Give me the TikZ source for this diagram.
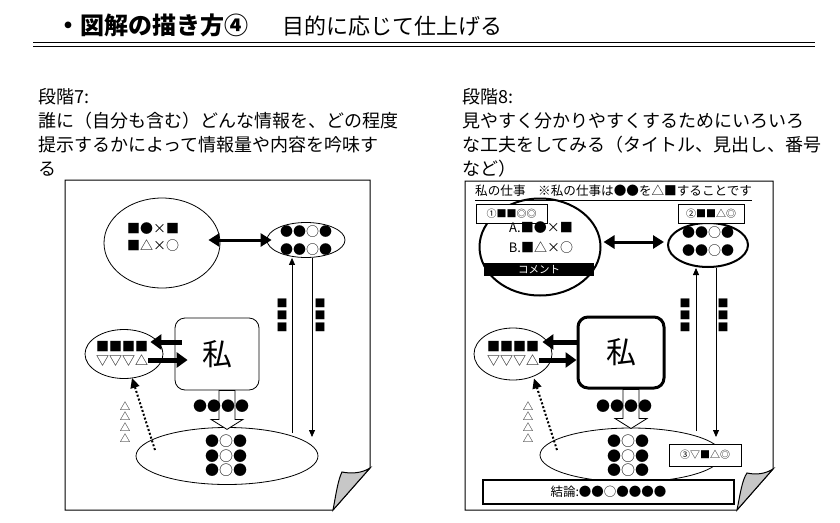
\documentclass[tikz,border=0pt]{standalone}
\usepackage{fontspec}
\setmainfont{Noto Sans CJK JP}
\usetikzlibrary{arrows.meta, positioning, shapes.geometric, calc}

\begin{document}
\begin{tikzpicture}[x=1pt, y=-1pt,
    every node/.style={inner sep=0pt},
    steptext/.style={align=left, font=\fontsize{18}{24}\selectfont},
    sym/.style={align=center, font=\fontsize{13}{#1}\selectfont},
    dots/.style={align=center, font=\fontsize{14}{#1}\selectfont},
    blob/.style={ellipse, draw, line width=0.8pt},
    heavyblob/.style={ellipse, draw, line width=2pt},
    mebox/.style={rectangle, rounded corners=10pt, draw, line width=0.8pt, minimum width=84pt, minimum height=72pt, font=\fontsize{30}{30}\selectfont},
    tag/.style={rectangle, draw, fill=white, line width=0.8pt, font=\fontsize{10}{10}\selectfont},
    page/.style={draw, line width=1pt, fill=white},
    fold/.style={draw, line width=1pt, fill=black!22},
    dblarrow/.style={{Triangle[length=11pt,width=13pt]}-{Triangle[length=11pt,width=13pt]}, line width=3pt},
    fatarrow/.style={-{Triangle[length=11pt,width=15pt]}, line width=5pt},
    linkarrow/.style={-{Triangle[length=7pt,width=6pt]}, line width=0.8pt},
    hintarrow/.style={-{Triangle[length=10pt,width=9pt]}, line width=2pt, dash pattern=on 2pt off 2pt},
    blockarrow/.style={draw, line width=0.8pt, fill=white}
  ]
    \useasboundingbox (0,0) rectangle (840,522);

    % title
    \node[anchor=base west, font=\fontsize{24}{24}\selectfont\bfseries] (title) at (56,34) {・図解の描き方④};
    \node[anchor=base west, font=\fontsize{22}{22}\selectfont] (subtitle) at (282,34) {目的に応じて仕上げる};
    \draw[line width=1.6pt] (33,42.5) -- (815,42.5);
    \draw[line width=1.6pt] (33,46.5) -- (815,46.5);

    \node[steptext, anchor=base west] (step7) at (38,175) {段階7:\\誰に（自分も含む）どんな情報を、どの程度\\提示するかによって情報量や内容を吟味す\\る};
    \node[steptext, anchor=base west] (step8) at (462,175) {段階8:\\見やすく分かりやすくするためにいろいろ\\な工夫をしてみる（タイトル、見出し、番号\\など）};

    % left page
    \draw[page] (65,180) -- (370,180) -- (370,468) -- (333,510) -- (65,510) -- cycle;
    \draw[fold] (370,468) -- (333,510) .. controls (336,494) and (338,480) .. (342,472) .. controls (352,474) and (362,473) .. (370,468) -- cycle;

    \node[blob, minimum width=116pt, minimum height=90pt] (big) at (162,243) {};
    \node[sym=17] (bigtxt) at (153,237) {■●×■\\■△×○};
    \node[blob, minimum width=78pt, minimum height=35pt] (near) at (306,240) {};
    \node[sym=18] (neartxt) at (306,241) {●●○●\\●●○●};
    \node[mebox] (me) at (217,354) {私};
    \node[blob, minimum width=78pt, minimum height=49pt] (side) at (124,354) {};
    \node[sym=14] (sidetxt) at (122,354) {■■■■\\▽▽▽△};
    \node[blob, minimum width=182pt, minimum height=57pt] (goal) at (227,456) {};
    \node[dots=14.5] (goaltxt) at (226,456) {●○●\\●○●\\●○●};
    \node[font=\fontsize{11}{12}\selectfont, align=center] (sq1) at (282,315) {■\\■\\■};
    \node[font=\fontsize{11}{12}\selectfont, align=center] (sq2) at (320,315) {■\\■\\■};
    \node[font=\fontsize{10.5}{10.7}\selectfont, align=center] (tri) at (125,422) {△\\△\\△\\△};
    \coordinate (up1) at (292,433);
    \coordinate (dn1) at (312,437);
    \coordinate (hint1) at (155,450);

    \draw[dblarrow] ($(big.east |- near.west)+(-12,0)$) -- ($(near.west)+(5,0)$);
    \draw[linkarrow] (up1) -- (up1 |- near.south);
    \draw[linkarrow] (dn1 |- near.south) -- (dn1);
    \draw[fatarrow] ($(me.west)+(7,-12)$) -- ($(side.east)+(-13,-12)$);
    \draw[fatarrow] ($(side.east)+(-15,6)$) -- ($(me.west)+(13,6)$);
    \coordinate (drop1) at (goal.north |- me.south);
    \draw[blockarrow] ($(drop1)+(-8,0)$) -- ++(0,29) -- ++(-8,0) -- ++(16,10) -- ++(16,-10) -- ++(-8,0) -- ++(0,-29) -- cycle;
    \node[dots=12] (flow1) at (221,406) {●●●●};
    \draw[hintarrow] (hint1) -- ($(side.south)+(8,-1)$);

    % right page
    \draw[page] (465,181) -- (773,181) -- (773,469) -- (737,510) -- (465,510) -- cycle;
    \draw[fold] (773,469) -- (737,510) .. controls (740,495) and (742,480) .. (747,473) .. controls (756,475) and (765,474) .. (773,469) -- cycle;

    \node[heavyblob, minimum width=121pt, minimum height=97pt] (rbig) at (540,247) {};
    \node[anchor=west, font=\fontsize{12.6}{13}\selectfont] (job) at (475,191) {私の仕事　※私の仕事は●●を△■することです};
    \draw[line width=0.8pt] ($(job.west)+(0,9)$) -- ($(job.east)+(0,9)$);
    \node[tag, minimum width=71pt, minimum height=19pt] (tag1) at (511.5,213.5) {①■■◎◎};
    \node[sym=20] (rbigtxt) at (541,238) {A.■●×■\\B.■△×○};
    \node[fill=black, text=white, minimum width=110pt, minimum height=13pt, font=\fontsize{10.5}{11}\selectfont] (note) at (539,269.5) {コメント};
    \node[heavyblob, minimum width=80pt, minimum height=44pt] (rnear) at (708,245) {};
    \node[tag, minimum width=66pt, minimum height=19pt] (tag2) at (711,213.5) {②■■△◎};
    \node[sym=18] (rneartxt) at (708,242) {●●○●\\●●○●};
    \node[mebox, line width=3pt, minimum width=86pt, minimum height=71pt] (rme) at (621,352.5) {私};
    \node[blob, minimum width=78pt, minimum height=52pt] (rside) at (513,354) {};
    \node[sym=14] (rsidetxt) at (513,354) {■■■■\\▽▽▽△};
    \node[blob, minimum width=182pt, minimum height=54pt] (rgoal) at (631,455) {};
    \node[dots=14.5] (rgoaltxt) at (628,456) {●○●\\●○●\\●○●};
    \node[font=\fontsize{11}{12}\selectfont, align=center] (rsq1) at (685,315) {■\\■\\■};
    \node[font=\fontsize{11}{12}\selectfont, align=center] (rsq2) at (723,315) {■\\■\\■};
    \node[font=\fontsize{10.5}{10.7}\selectfont, align=center] (rtri) at (528,422) {△\\△\\△\\△};
    \node[tag, minimum width=72pt, minimum height=22pt] (tag3) at (705,455) {③▽■△◎};
    \node[draw, line width=2.5pt, fill=white, minimum width=251pt, minimum height=24pt, font=\fontsize{12.5}{13}\selectfont] (verdict) at (608.5,492) {結論:●●○●●●●};
    \coordinate (up2) at (696,431);
    \coordinate (dn2) at (716,437);
    \coordinate (hint2) at (557,450);

    \draw[dblarrow] ($(rbig.east |- rnear.west)+(2,-3)$) -- ($(rnear.west)+(-3,-3)$);
    \draw[linkarrow] (up2) -- (up2 |- rnear.south);
    \draw[linkarrow] (dn2 |- rnear.south) -- (dn2);
    \draw[fatarrow] ($(rme.west)+(0,-10.5)$) -- ($(rside.east)+(-10,-12)$);
    \draw[fatarrow] ($(rside.east)+(-13,6)$) -- ($(rme.west)+(0,7.5)$);
    \coordinate (drop2) at (rgoal.north |- rme.south);
    \draw[blockarrow] ($(drop2)+(-8,0)$) -- ++(0,29) -- ++(-8,0) -- ++(16,10) -- ++(16,-10) -- ++(-8,0) -- ++(0,-29) -- cycle;
    \node[dots=12] (flow2) at (624,406) {●●●●};
    \draw[hintarrow] (hint2) -- ($(rside.south)+(21,-2)$);
  \end{tikzpicture}
\end{document}
